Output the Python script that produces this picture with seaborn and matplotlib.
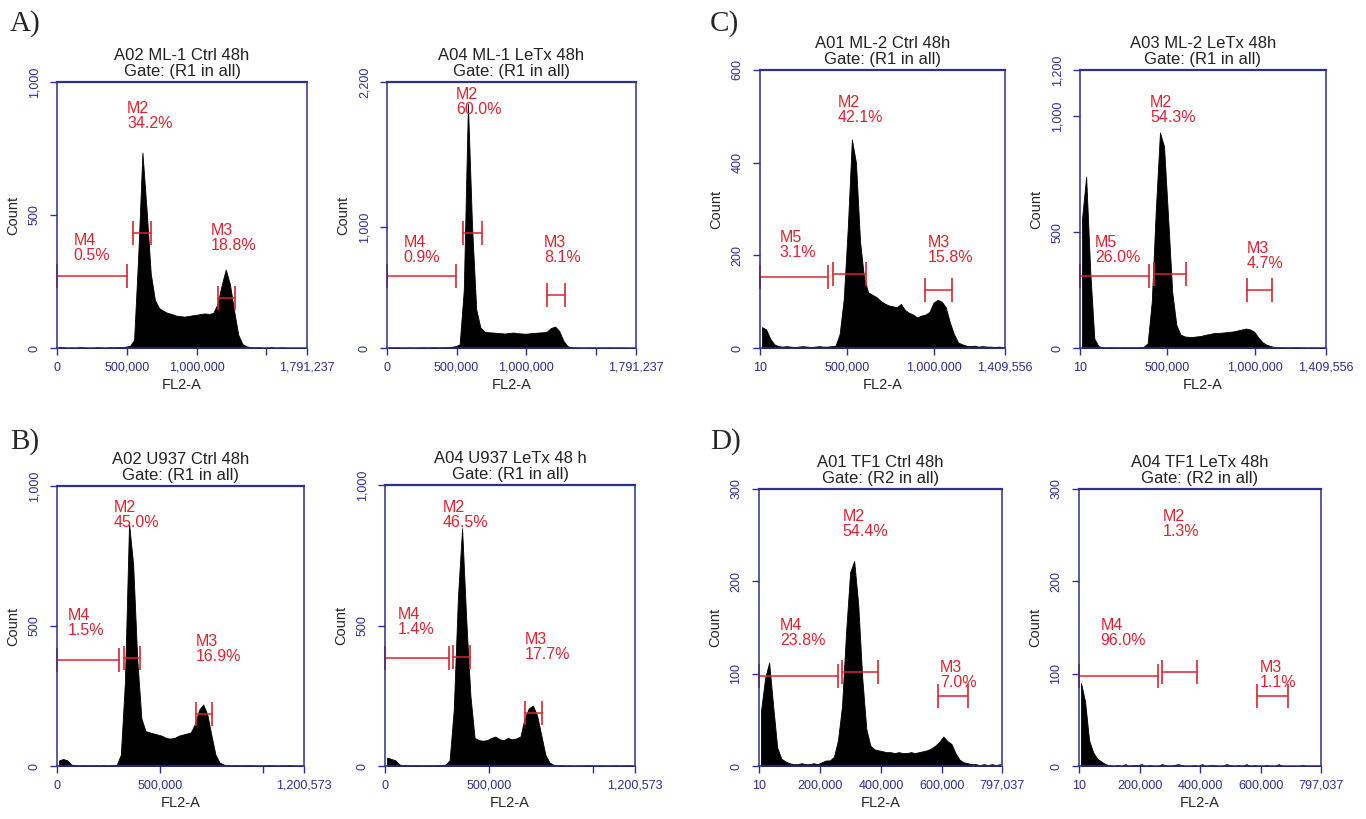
import numpy as np
import pandas as pd
import matplotlib
matplotlib.use("Agg")
import matplotlib.pyplot as plt
import seaborn as sns

# ---------- DATA ----------
# histogram bin heights (equal-width bins spanning each panel's x range)
A1_COUNTS = [5, 3, 0, 2, 0, 4, 2, 0, 0, 3, 2, 0, 3, 2, 4, 3, 5, 8,
             30, 350, 735, 520, 280, 180, 150, 140, 132, 128, 122, 120, 118, 120, 123, 125, 128, 130, 128, 132,
             165, 235, 295, 240, 140, 50, 15,
             6, 3, 2, 3, 0, 2, 3, 0, 2, 2, 0, 0, 0, 0, 0]
A2_COUNTS = [4, 3, 5, 2, 3, 4, 2, 3, 5, 3, 4, 6, 3, 5, 8, 10, 15, 30,
             480, 2020, 1000, 320, 170,
             135, 130, 128, 125, 122, 120, 125, 128, 122, 120, 118, 122, 125, 128, 130, 135,
             165, 178, 140, 60, 15,
             6, 4, 3, 2, 4, 3, 2, 3, 2, 4, 3, 2, 3, 2, 0, 0]
C1_COUNTS = [45, 40, 20, 8, 4, 3, 4, 3, 2, 3, 4, 3, 2, 3, 4, 3, 3, 4, 5,
             30, 105, 260, 450, 400, 230, 150, 120, 115, 110, 102, 96, 92, 90, 88, 95, 82, 76, 72, 66,
             70, 72, 78, 98, 104, 100, 88, 55, 30, 12, 8,
             5, 4, 5, 3, 4, 3, 3, 2, 3, 2]
C2_COUNTS = [560, 740, 330, 40, 8, 3, 2, 3, 2, 2, 3, 2, 3, 2, 3, 5,
             20, 200, 600, 930, 870, 560, 240, 100, 58, 50, 48, 48, 50, 52, 57, 60, 64, 65, 66, 68,
             70, 72, 76, 80, 84, 80, 70, 45, 25, 14, 8,
             4, 3, 3, 2, 2, 3, 2, 2, 1, 2, 1, 1, 1]
B1_COUNTS = [20, 25, 20, 5, 3, 2, 3, 2, 2, 3, 2, 3, 2, 3, 4,
             40, 300, 866, 720, 380, 170, 125, 120, 116, 112, 108, 100, 98, 100, 108, 112, 116, 120,
             150, 200, 220, 185, 110, 40, 12,
             5, 3, 2, 3, 2, 2, 3, 2, 2, 1, 2, 3, 2, 1, 2, 2, 3, 2, 1, 2]
B2_COUNTS = [30, 25, 20, 5, 3, 3, 2, 3, 2, 2, 3, 2, 3, 3, 5,
             20, 200, 600, 846, 520, 250, 100, 92, 90, 92, 100, 105, 95, 92, 100, 95, 98, 105,
             170, 205, 215, 180, 110, 40, 12,
             4, 2, 3, 2, 2, 1, 2, 2, 3, 2, 1, 2, 2, 1, 2, 2, 1, 2, 2, 1]
D1_COUNTS = [60, 95, 112, 65, 20, 8, 5, 3, 2, 2, 3, 2, 2, 3, 2, 4,
             6, 6, 10, 28, 65, 145, 210, 222, 175, 95, 40, 22, 18, 17, 16, 15, 15, 14, 15, 14,
             14, 15, 14, 15, 16, 17, 19, 22, 26, 32, 27, 24, 14, 7,
             4, 3, 2, 2, 1, 2, 1, 2, 1, 2]
D2_COUNTS = [90, 70, 28, 15, 8, 5,
             2, 1, 0, 1, 0, 2, 0, 1, 1, 2, 0, 1, 0, 0, 2, 1, 0, 1, 2, 1,
             0, 0, 1, 0, 2, 0, 1, 1, 0, 0, 2, 1, 0, 1, 0, 2, 0, 1, 0, 0,
             1, 0, 0, 2, 0, 0, 0, 0, 0, 1, 0, 0, 0, 0]

# x / y ranges
RANGE_ML1 = (0, 1791237)
RANGE_ML2 = (10, 1409556)
RANGE_U937 = (0, 1200573)
RANGE_TF1 = (10, 797037)
YMAX = {"A1": 1000, "A2": 2200, "C1": 600, "C2": 1200,
        "B1": 1000, "B2": 1000, "D1": 300, "D2": 300}

XTICKS_ML1 = [0, 500000, 1000000, 1500000, 1791237]
XLABELS_ML1 = ["0", "500,000", "1,000,000", "", "1,791,237"]
XTICKS_ML2 = [10, 500000, 1000000, 1409556]
XLABELS_ML2 = ["10", "500,000", "1,000,000", "1,409,556"]
XTICKS_U937 = [0, 500000, 1000000, 1200573]
XLABELS_U937 = ["0", "500,000", "", "1,200,573"]
XTICKS_TF1 = [10, 200000, 400000, 600000, 797037]
XLABELS_TF1 = ["10", "200,000", "400,000", "600,000", "797,037"]
YTICKS = {"A1": [0, 500, 1000], "A2": [0, 1000, 2200], "C1": [0, 200, 400, 600],
          "C2": [0, 500, 1000, 1200], "B1": [0, 500, 1000], "B2": [0, 500, 1000],
          "D1": [0, 100, 200, 300], "D2": [0, 100, 200, 300]}

TITLES = {
    "A1": "A02 ML-1 Ctrl 48h\nGate: (R1 in all)",
    "A2": "A04 ML-1 LeTx 48h\nGate: (R1 in all)",
    "C1": "A01 ML-2 Ctrl 48h\nGate: (R1 in all)",
    "C2": "A03 ML-2 LeTx 48h\nGate: (R1 in all)",
    "B1": "A02 U937 Ctrl 48h\nGate: (R1 in all)",
    "B2": "A04 U937 LeTx 48 h\nGate: (R1 in all)",
    "D1": "A01 TF1 Ctrl 48h\nGate: (R2 in all)",
    "D2": "A04 TF1 LeTx 48h\nGate: (R2 in all)",
}

# gates: (name, x start, x end, y level)
A1_GATES = [("M4", 0, 500000, 271), ("M2", 544537, 673505, 433), ("M3", 1151155, 1272960, 188)]
A1_PCTS = ["0.5%", "34.2%", "18.8%"]
A2_GATES = [("M4", 0, 495700, 597), ("M2", 546000, 682500, 953), ("M3", 1149433, 1281000, 442)]
A2_PCTS = ["0.9%", "60.0%", "8.1%"]
C1_GATES = [("M5", 10, 389310, 154), ("M2", 421910, 607930, 160), ("M3", 949320, 1102740, 126)]
C1_PCTS = ["3.1%", "42.1%", "15.8%"]
C2_GATES = [("M5", 10, 395350, 309), ("M2", 424000, 605450, 319), ("M3", 955000, 1102050, 249)]
C2_PCTS = ["26.0%", "54.3%", "4.7%"]
B1_GATES = [("M4", 0, 302170, 380), ("M2", 326400, 403960, 384), ("M3", 673800, 754600, 185)]
B1_PCTS = ["1.5%", "45.0%", "16.9%"]
B2_GATES = [("M4", 0, 307300, 386), ("M2", 328150, 408200, 388), ("M3", 672300, 755500, 189)]
B2_PCTS = ["1.4%", "46.5%", "17.7%"]
D1_GATES = [("M4", 10, 258400, 98), ("M2", 273700, 389760, 102), ("M3", 586830, 685360, 76)]
D1_PCTS = ["23.8%", "54.4%", "7.0%"]
D2_GATES = [("M4", 10, 259100, 98), ("M2", 274460, 387540, 102), ("M3", 585170, 689470, 76)]
D2_PCTS = ["96.0%", "1.3%", "1.1%"]

# ---------- LAYOUT ----------
W, H = 1366, 819
# axes box in pixels: left, top, right, bottom
BOXES = {"A1": (57, 82, 307, 348), "A2": (387, 82, 636, 348),
         "C1": (760, 70, 1005, 348), "C2": (1080, 70, 1326, 348),
         "B1": (57, 486, 304, 766), "B2": (385, 485, 635, 766),
         "D1": (759, 489, 1002, 766), "D2": (1079, 489, 1321, 766)}
# gate label anchor (top-left of "Mx" text), data coords, same order as gates
LABEL_XY = {
    "A1": [(119416, 431), (501546, 927), (1103402, 469)],
    "A2": [(119735, 934), (498100, 2159), (1130318, 934)],
    "C1": [(111240, 255), (446845, 546), (964660, 244)],
    "C2": [(86000, 488), (401100, 1092), (955000, 460)],
    "B1": [(53300, 563), (274700, 950), (673800, 473)],
    "B2": [(60800, 566), (276900, 947), (672300, 477)],
    "D1": [(69000, 160), (274800, 278), (594500, 115)],
    "D2": [(71370, 160), (275560, 278), (596130, 115)],
}

NAVY = "#2e2e94"
RED = "#dc2430"

PANELS = {
    "A1": (A1_COUNTS, RANGE_ML1, XTICKS_ML1, XLABELS_ML1, A1_GATES, A1_PCTS),
    "A2": (A2_COUNTS, RANGE_ML1, XTICKS_ML1, XLABELS_ML1, A2_GATES, A2_PCTS),
    "C1": (C1_COUNTS, RANGE_ML2, XTICKS_ML2, XLABELS_ML2, C1_GATES, C1_PCTS),
    "C2": (C2_COUNTS, RANGE_ML2, XTICKS_ML2, XLABELS_ML2, C2_GATES, C2_PCTS),
    "B1": (B1_COUNTS, RANGE_U937, XTICKS_U937, XLABELS_U937, B1_GATES, B1_PCTS),
    "B2": (B2_COUNTS, RANGE_U937, XTICKS_U937, XLABELS_U937, B2_GATES, B2_PCTS),
    "D1": (D1_COUNTS, RANGE_TF1, XTICKS_TF1, XLABELS_TF1, D1_GATES, D1_PCTS),
    "D2": (D2_COUNTS, RANGE_TF1, XTICKS_TF1, XLABELS_TF1, D2_GATES, D2_PCTS),
}

sns.set_theme(style="white")
plt.rcParams['font.family'] = ['Liberation Sans', 'DejaVu Sans']

fig = plt.figure(figsize=(W / 100, H / 100), dpi=100)

for key, (counts, xr, xt, xl, gates, pcts) in PANELS.items():
    l, t, r, b = BOXES[key]
    ax = fig.add_axes([l / W, 1 - b / H, (r - l) / W, (b - t) / H])
    edges = np.linspace(xr[0], xr[1], len(counts) + 1)
    df = pd.DataFrame({"fl2a": (edges[:-1] + edges[1:]) / 2, "count": counts})
    sns.histplot(data=df, x="fl2a", weights="count", bins=list(edges), element="poly",
                 fill=True, color="black", alpha=1, linewidth=0.6, edgecolor="black", ax=ax)
    ax.set_xlim(xr)
    ax.set_ylim(0, YMAX[key])
    ax.set_xticks(xt)
    ax.set_xticklabels(xl)
    ax.set_yticks(YTICKS[key])
    ax.set_yticklabels([f"{v:,}" for v in YTICKS[key]], rotation=90, va="center")
    ax.tick_params(direction="out", length=5, width=1, color=NAVY, labelcolor=NAVY,
                   labelsize=9, bottom=True, left=True)
    ax.tick_params(axis="x", pad=5)
    ax.tick_params(axis="y", pad=7)
    for sp in ax.spines.values():
        sp.set_color(NAVY)
        sp.set_linewidth(1.1)
    ax.spines["top"].set_linewidth(1.6)
    ax.grid(False)
    ax.set_title(TITLES[key], fontsize=12, pad=4, linespacing=1.1, color="#222222")
    ax.set_xlabel("FL2-A", fontsize=10.5, labelpad=3)
    ax.set_ylabel("Count", fontsize=10.5, labelpad=6)

    for (name, x0, x1, y), pct, (tx, ty) in zip(gates, pcts, LABEL_XY[key]):
        ax.plot([x0, x1], [y, y], color=RED, lw=1.1, marker="|", markersize=17,
                markeredgewidth=1.2, clip_on=False)
        ax.text(tx, ty, f"{name}\n{pct}", color=RED, fontsize=11.5, ha="left", va="top",
                linespacing=1.0)

# panel letters
for letter, (px, py) in {"A)": (10, 10), "B)": (10, 428), "C)": (710, 10), "D)": (710, 428)}.items():
    fig.text(px / W, 1 - py / H, letter, fontsize=21, family="Liberation Serif",
             ha="left", va="top")

fig.savefig("out.png", dpi=100)
